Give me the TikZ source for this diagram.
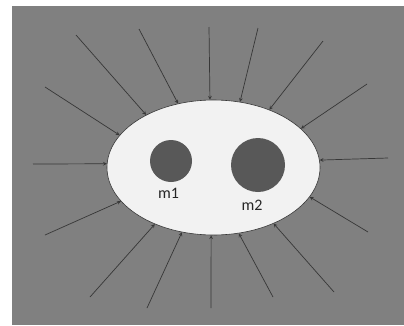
\documentclass[tikz,border=0pt]{standalone}
\usepackage{fontspec}
\setmainfont{Carlito}
\usepackage{xcolor}
\usetikzlibrary{arrows,shapes.geometric}

\definecolor{fieldgray}{RGB}{128,128,128}
\definecolor{massgray}{RGB}{88,88,88}
\definecolor{linegray}{RGB}{55,55,55}

\begin{document}
\begin{tikzpicture}[>=stealth, x=1pt, y=-1pt]
    \tikzstyle{region} = [ellipse, draw=linegray, line width=0.6pt, fill=black!5, minimum width=213pt, minimum height=135pt, inner sep=0pt]
    \tikzstyle{mass} = [circle, fill=massgray, inner sep=0pt]
    \tikzstyle{mass label} = [font=\fontsize{16}{18}\selectfont, text=black!85]
    \tikzstyle{flux} = [->, linegray, line width=0.7pt]
    \useasboundingbox (0,0) rectangle (404,325);
    \fill[fieldgray] (12,6) rectangle (404,325);
    \node[region] (field) at (213.5,167.5) {};
    \node[mass, minimum size=42pt] (m1) at (171,161) {};
    \node[mass, minimum size=54pt] (m2) at (258,165) {};
    \node[mass label] (m1 label) at (168.5,193) {m1};
    \node[mass label] (m2 label) at (252,205) {m2};
    % field lines pointing into the region
    \foreach \i/\p/\a in {1/{76,35}/142, 2/{139,29}/119.5, 3/{209,27}/93.8, 4/{258,28}/68.7,
                          5/{323,41}/46.5, 6/{367,84}/24.3, 7/{45,87}/161, 8/{33,164}/178,
                          9/{388,158}/4.6, 10/{45,235}/200, 11/{90,297}/224, 12/{147,308}/244.7,
                          13/{211,308}/268, 14/{273,297}/291.4, 15/{334,292}/317, 16/{368,232}/343}{
        \coordinate (s\i) at (\p);
        \draw[flux] (s\i) -- (field.\a);
    }
\end{tikzpicture}
\end{document}
